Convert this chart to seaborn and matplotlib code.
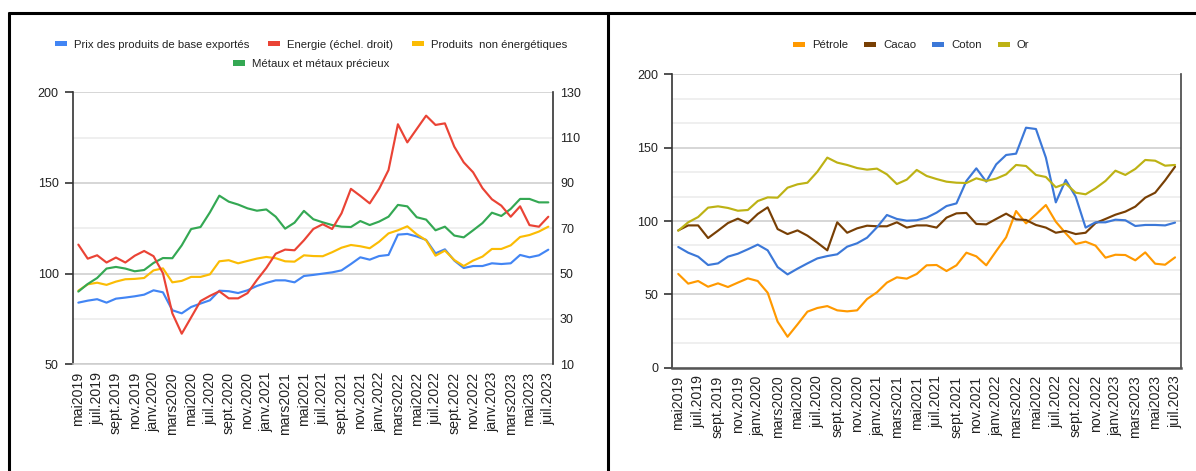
import matplotlib
matplotlib.use("Agg")
import matplotlib.pyplot as plt
import matplotlib.font_manager as fm
from matplotlib.lines import Line2D
from matplotlib.patches import Patch
from matplotlib.ticker import MultipleLocator, FixedLocator
import numpy as np
import pandas as pd
import seaborn as sns

# ---------------------------------------------------------------- data
tick_labels = ["mai2019", "juil.2019", "sept.2019", "nov.2019", "janv.2020", "mars2020",
               "mai2020", "juil.2020", "sept.2020", "nov.2020", "janv.2021", "mars2021",
               "mai2021", "juil.2021", "sept.2021", "nov.2021", "janv.2022", "mars2022",
               "mai2022", "juil.2022", "sept.2022", "nov.2022", "janv.2023", "mars2023",
               "mai2023", "juil.2023"]

prix_base = [84.0, 85.1, 85.9, 84.0, 86.2, 86.8, 87.5, 88.4, 90.8, 89.7,
             79.8, 78.1, 81.6, 83.5, 85.3, 90.6, 90.3, 89.3, 90.8, 93.2,
             94.9, 96.3, 96.3, 95.2, 98.7, 99.3, 100.0, 100.7, 101.8, 105.3,
             109.0, 107.7, 109.7, 110.3, 121.5, 121.9, 120.5, 118.6, 111.2, 113.4,
             107.2, 103.1, 104.2, 104.2, 105.7, 105.3, 105.7, 110.3, 109.0, 110.1, 113.2]

energie = [62.8, 56.6, 58.1, 54.9, 57.1, 54.9, 57.9, 60.0, 57.7, 50.2,
           32.5, 23.5, 30.7, 37.9, 40.2, 42.2, 39.1, 39.1, 41.4, 47.2,
           52.5, 58.8, 60.6, 60.3, 64.7, 69.7, 71.8, 69.7, 76.6, 87.4,
           84.3, 81.0, 87.4, 95.7, 115.9, 107.9, 113.8, 119.7, 115.6, 116.3,
           106.0, 99.1, 94.7, 87.7, 82.8, 80.0, 75.1, 79.7, 71.4, 70.7, 75.1]

non_energetiques = [90.6, 94.1, 95.0, 93.8, 95.6, 96.9, 97.1, 97.6, 101.8, 102.9,
                    95.2, 96.0, 98.2, 98.2, 99.6, 106.8, 107.4, 105.7, 107.0, 108.3,
                    109.2, 108.5, 106.8, 106.6, 110.1, 109.7, 109.6, 111.8, 114.3, 115.8,
                    115.1, 114.0, 117.6, 122.2, 123.9, 126.1, 121.7, 118.4, 109.9, 112.7,
                    107.5, 104.2, 107.2, 109.4, 113.6, 113.6, 115.6, 120.2, 121.3, 123.2, 125.9]

metaux = [90.1, 94.3, 97.6, 102.8, 103.7, 102.8, 101.3, 102.0, 105.9, 108.6,
          108.5, 115.6, 124.6, 125.7, 133.8, 143.0, 139.7, 138.1, 136.0, 134.7,
          135.4, 131.4, 124.8, 128.1, 134.6, 130.0, 128.3, 126.8, 125.9, 125.7,
          129.0, 126.8, 128.7, 131.4, 137.9, 137.1, 131.1, 129.8, 123.9, 125.9,
          121.0, 120.0, 123.9, 127.9, 133.6, 131.8, 135.7, 141.2, 141.2, 139.3, 139.3]

petrole = [63.9, 57.3, 59.1, 55.2, 57.5, 55.0, 58.0, 60.9, 59.1, 51.1,
           31.4, 21.1, 29.5, 38.2, 40.7, 42.0, 39.1, 38.4, 39.1, 46.8,
           51.4, 58.0, 61.6, 60.7, 63.9, 69.8, 70.0, 65.9, 69.8, 78.4,
           75.9, 69.8, 79.5, 88.9, 106.8, 98.4, 104.5, 110.9, 99.5, 91.6,
           84.3, 85.9, 83.2, 75.0, 77.0, 76.8, 73.2, 78.6, 70.9, 70.2, 75.2]

cacao = [93.6, 97.0, 97.0, 88.4, 93.4, 98.6, 101.6, 98.4, 104.8, 109.3,
         94.5, 91.1, 93.6, 90.0, 85.2, 80.0, 99.1, 92.0, 95.0, 96.8,
         96.4, 96.4, 99.1, 95.5, 97.0, 97.0, 95.5, 102.3, 105.2, 105.5,
         98.0, 97.7, 101.4, 105.0, 101.1, 100.7, 97.3, 95.5, 92.0, 93.2,
         91.1, 92.0, 98.6, 101.4, 104.3, 106.4, 109.8, 115.9, 119.3, 127.7, 137.0]

coton = [82.3, 78.4, 75.7, 70.0, 71.1, 75.7, 77.7, 80.7, 83.9, 80.0,
         68.6, 63.6, 67.5, 71.1, 74.5, 76.1, 77.3, 82.5, 84.8, 88.6,
         95.7, 104.1, 101.4, 100.2, 100.5, 102.3, 105.7, 110.2, 112.0, 127.3,
         135.9, 126.8, 138.6, 145.0, 145.9, 163.6, 162.7, 143.2, 112.7, 128.0,
         116.6, 95.5, 99.1, 99.1, 100.9, 100.5, 96.6, 97.3, 97.3, 97.0, 98.9]

or_ = [93.4, 99.1, 102.7, 109.1, 110.0, 108.9, 107.0, 107.5, 113.6, 116.1,
       115.9, 122.7, 125.0, 126.1, 133.6, 143.2, 139.8, 138.2, 136.1, 135.0,
       135.7, 131.8, 125.2, 128.2, 134.8, 130.7, 128.6, 126.8, 126.1, 125.9,
       129.1, 127.3, 128.9, 131.8, 138.2, 137.5, 131.4, 130.0, 123.0, 125.5,
       119.3, 118.2, 122.3, 127.3, 134.3, 131.4, 135.5, 141.6, 141.1, 137.7, 138.2]

# ---------------------------------------------------------------- style
sns.set_theme(style="white")
names = {f.name for f in fm.fontManager.ttflist}
NARROW = "Liberation Sans Narrow" if "Liberation Sans Narrow" in names else None
REGULAR = "Liberation Sans"
plt.rcParams["font.family"] = [NARROW or REGULAR, "DejaVu Sans"]
# a condensed face can be set larger for the same width
LEG_SIZE = 10 if NARROW else 8.2
NUM_SIZE = 10 if NARROW else 9
TXT = "#222222"

C_LEFT = {"Prix des produits de base exportés": "#4285F4",
          "Energie (échel. droit)": "#EA4335",
          "Produits  non énergétiques": "#FBBC04",
          "Métaux et métaux précieux": "#34A853"}
C_RIGHT = {"Pétrole": "#FF9900", "Cacao": "#783F04", "Coton": "#3C78D8", "Or": "#BDB214"}
LW = 1.55

n = len(prix_base)
mois = np.arange(n)


def long_form(series):
    return pd.concat([pd.DataFrame({"mois": mois, "valeur": v, "serie": k})
                      for k, v in series.items()], ignore_index=True)


W, H = 1196, 471
fig = plt.figure(figsize=(W / 100, H / 100), dpi=100)
fig.patch.set_facecolor("white")


def px_axes(x0, y0, x1, y1):
    return fig.add_axes([x0 / W, 1 - y1 / H, (x1 - x0) / W, (y1 - y0) / H])


def style_x(ax):
    ax.set_xticks(mois[::2])
    ax.set_xticklabels(tick_labels, rotation=90, family=[REGULAR, "DejaVu Sans"],
                       fontsize=10.2, color=TXT)
    ax.tick_params(axis="x", length=0, pad=5.5)
    ax.set_xlabel("")
    ax.set_ylabel("")


# ---------------------------------------------------------------- left chart
axL = px_axes(72.7, 92.3, 553, 364.3)
left_main = long_form({"Prix des produits de base exportés": prix_base,
                       "Produits  non énergétiques": non_energetiques,
                       "Métaux et métaux précieux": metaux})
sns.lineplot(data=left_main, x="mois", y="valeur", hue="serie", palette=C_LEFT,
             ax=axL, legend=False, linewidth=LW, estimator=None, sort=False)
axL.set_xlim(-0.6, n - 0.5)
axL.set_ylim(50, 200)
axL.yaxis.set_major_locator(MultipleLocator(50))
axL.yaxis.set_minor_locator(FixedLocator([75, 125, 175]))
axL.set_axisbelow(True)
axL.grid(which="major", axis="y", color="#CCCCCC", lw=1.1)
axL.grid(which="minor", axis="y", color="#EBEBEB", lw=1.1)
axL.tick_params(axis="y", which="major", length=6, width=1.2, color="#333333",
                pad=4, labelsize=NUM_SIZE, labelcolor=TXT, left=True)
axL.tick_params(axis="y", which="minor", length=0)
style_x(axL)
axL.spines["top"].set_visible(False)
axL.spines["left"].set_color("#333333")
axL.spines["left"].set_linewidth(1.2)
axL.spines["bottom"].set_color("#CCCCCC")
axL.spines["bottom"].set_linewidth(1.1)
axL.spines["right"].set_visible(False)

axR2 = axL.twinx()
sns.lineplot(data=long_form({"Energie (échel. droit)": energie}), x="mois", y="valeur",
             hue="serie", palette=C_LEFT, ax=axR2, legend=False, linewidth=LW,
             estimator=None, sort=False)
axR2.set_ylim(10, 130)
axR2.yaxis.set_major_locator(FixedLocator([10, 30, 50, 70, 90, 110, 130]))
axR2.tick_params(axis="y", length=0, pad=5, labelsize=NUM_SIZE, labelcolor=TXT, right=True)
axR2.set_ylabel("")
for s in ("top", "left", "bottom"):
    axR2.spines[s].set_visible(False)
axR2.spines["right"].set_color("#333333")
axR2.spines["right"].set_linewidth(1.2)

# ---------------------------------------------------------------- right chart
axB = px_axes(672, 74.3, 1181, 367.7)
right_df = long_form({"Pétrole": petrole, "Cacao": cacao, "Coton": coton, "Or": or_})
sns.lineplot(data=right_df, x="mois", y="valeur", hue="serie", palette=C_RIGHT,
             ax=axB, legend=False, linewidth=LW, estimator=None, sort=False)
axB.set_xlim(-0.63, n - 0.4)
axB.set_ylim(0, 200)
axB.yaxis.set_major_locator(MultipleLocator(50))
axB.yaxis.set_minor_locator(FixedLocator([50 / 3 * k for k in range(1, 12) if k % 3]))
axB.set_axisbelow(True)
axB.grid(which="major", axis="y", color="#CCCCCC", lw=1.1)
axB.grid(which="minor", axis="y", color="#EBEBEB", lw=1.1)
axB.tick_params(axis="y", which="major", length=6, width=1.2, color="#333333",
                pad=4, labelsize=NUM_SIZE, labelcolor=TXT, left=True)
axB.tick_params(axis="y", which="minor", length=0)
style_x(axB)
axB.spines["top"].set_visible(False)
axB.spines["left"].set_color("#333333")
axB.spines["left"].set_linewidth(1.2)
axB.spines["bottom"].set_color("#555555")
axB.spines["bottom"].set_linewidth(1.8)
axB.spines["right"].set_color("#444444")
axB.spines["right"].set_linewidth(1.2)

# ---------------------------------------------------------------- legends
em = LEG_SIZE * 100 / 72  # font size in pixels


def legend(labels, colors, cx, cy, gap_px):
    handles = [Patch(facecolor=colors[l], edgecolor="none") for l in labels]
    fig.legend(handles, labels, loc="center", bbox_to_anchor=(cx / W, 1 - cy / H),
               ncol=len(labels), frameon=False, fontsize=LEG_SIZE,
               handlelength=12 / em, handleheight=4 / em, handletextpad=7 / em,
               columnspacing=gap_px / em, borderpad=0, labelcolor=TXT)


legend(["Prix des produits de base exportés", "Energie (échel. droit)",
        "Produits  non énergétiques"], C_LEFT, 311, 44.5, 19)
legend(["Métaux et métaux précieux"], C_LEFT, 311, 64, 19)
legend(["Pétrole", "Cacao", "Coton", "Or"], C_RIGHT, 911, 45.5, 16)

# ---------------------------------------------------------------- panel frames
def frame(x0, y0, x1, y1):
    fig.add_artist(Line2D([x0 / W, x1 / W], [1 - y0 / H, 1 - y1 / H],
                          transform=fig.transFigure, color="black", lw=2.2,
                          solid_capstyle="butt"))


frame(7.5, 13, W, 13)
frame(8.7, 12, 8.7, H)
frame(608, 12, 608, H)

fig.savefig("out.png", dpi=100, facecolor="white")
